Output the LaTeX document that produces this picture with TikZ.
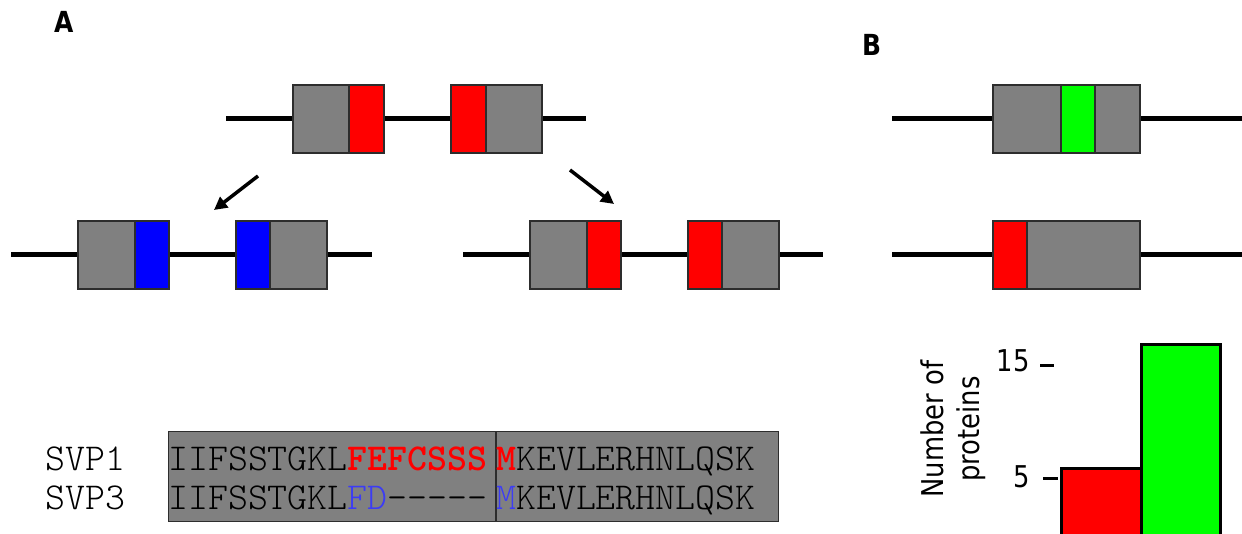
\documentclass[tikz,border=0pt]{standalone}
\usepackage{fontspec}
\usetikzlibrary{arrows.meta}
\newfontfamily\labfont[FakeStretch=0.86]{DejaVu Sans}
\newfontfamily\seqfont[BoldFont=lmmonolt10-bold.otf]{lmmonolt10-regular.otf}
\definecolor{exgray}{RGB}{128,128,128}
\definecolor{edgegray}{RGB}{45,45,45}
\definecolor{exred}{RGB}{255,0,0}
\definecolor{exblue}{RGB}{0,0,255}
\definecolor{exgreen}{RGB}{0,255,0}
\definecolor{aablue}{RGB}{60,60,245}
\tikzset{
  strand/.style={line width=5pt, black},
  exon/.style={draw=edgegray, line width=1.3pt, inner sep=0pt, minimum height=68pt, anchor=center},
  arr/.style={line width=3.5pt, -{Triangle[length=13pt,width=13pt]}},
  seq/.style={inner sep=0pt, anchor=base west, font=\seqfont\fontsize{38}{40}\selectfont},
  panel/.style={inner sep=0pt, anchor=base west, font=\labfont\bfseries\fontsize{29}{32}\selectfont},
  axis/.style={inner sep=0pt, font=\labfont\fontsize{30}{36}\selectfont},
  bar/.style={draw=black, line width=3pt, inner sep=0pt, anchor=north west, minimum height=90pt},
  tick/.style={line width=3pt, black},
}
\begin{document}
\begin{tikzpicture}[x=1pt, y=-1pt]
\path[use as bounding box, fill=white] (0,0) rectangle (1242,534);
\clip (0,0) rectangle (1242,534);

% panel labels
\node[panel] (labA) at (54,33) {A};
\node[panel] (labB) at (862,56) {B};

% ---- panel A: ancestral locus ----
\coordinate (t0) at (226,119); \coordinate (t1) at (586,119);
\draw[strand] (t0) -- (t1);
\node[exon, fill=exgray, minimum width=56pt] (tg1) at (321,119) {};
\node[exon, fill=exred,  minimum width=35pt] (tr1) at (366.5,119) {};
\node[exon, fill=exred,  minimum width=35pt] (tr2) at (468.5,119) {};
\node[exon, fill=exgray, minimum width=56pt] (tg2) at (514,119) {};

% derived loci
\coordinate (aL0) at (258,176); \coordinate (aL1) at (214,210);
\coordinate (aR0) at (570,170); \coordinate (aR1) at (614,204);
\draw[arr] (aL0) -- (aL1);
\draw[arr] (aR0) -- (aR1);

\coordinate (l0) at (11,255); \coordinate (l1) at (372,255);
\draw[strand] (l0) -- (l1);
\node[exon, fill=exgray, minimum width=57pt] (lg1) at (106.5,255) {};
\node[exon, fill=exblue, minimum width=34pt] (lb1) at (152,255) {};
\node[exon, fill=exblue, minimum width=34pt] (lb2) at (253,255) {};
\node[exon, fill=exgray, minimum width=57pt] (lg2) at (298.5,255) {};

\coordinate (r0) at (463,255); \coordinate (r1) at (823,255);
\draw[strand] (r0) -- (r1);
\node[exon, fill=exgray, minimum width=57pt] (rg1) at (558.5,255) {};
\node[exon, fill=exred,  minimum width=34pt] (rr1) at (604,255) {};
\node[exon, fill=exred,  minimum width=34pt] (rr2) at (705,255) {};
\node[exon, fill=exgray, minimum width=57pt] (rg2) at (750.5,255) {};

% sequence alignment
\node[draw=edgegray, line width=1.3pt, fill=exgray, inner sep=0pt, anchor=north west,
      minimum width=610pt, minimum height=90pt] (aln) at (168,431) {};
\coordinate (dv0) at (496,431); \coordinate (dv1) at (496,521);
\draw[edgegray, line width=1.3pt] (dv0) -- (dv1);

\node[seq] (n1) at (45,470) {SVP1};
\node[seq] (n3) at (45,509) {SVP3};
\node[seq] (s1a) at (168,470) {IIFSSTGKL\textcolor{exred}{\bfseries FEFCSSS}};
\node[seq] (s1b) at (496,470) {\textcolor{exred}{\bfseries M}KEVLERHNLQSK};
\node[seq] (s3a) at (168,509) {IIFSSTGKL\textcolor{aablue}{FD}-----};
\node[seq] (s3b) at (496,509) {\textcolor{aablue}{M}KEVLERHNLQSK};

% ---- panel B: gene models ----
\coordinate (b0) at (892,119); \coordinate (b1) at (1246,119);
\draw[strand] (b0) -- (b1);
\node[exon, fill=exgray,  minimum width=68pt] (bg1) at (1027,119) {};
\node[exon, fill=exgreen, minimum width=34pt] (bgr) at (1078,119) {};
\node[exon, fill=exgray,  minimum width=45pt] (bg2) at (1117.5,119) {};

\coordinate (c0) at (892,255); \coordinate (c1) at (1246,255);
\draw[strand] (c0) -- (c1);
\node[exon, fill=exred,  minimum width=34pt] (cr) at (1010,255) {};
\node[exon, fill=exgray, minimum width=113pt] (cg) at (1083.5,255) {};

% bar chart
\node[axis, rotate=90, align=center] (ylab) at (953,429) {Number of\\proteins};
\node[axis, anchor=east] (t15) at (1030,361) {15};
\node[axis, anchor=east] (t5) at (1030,477) {5};
\coordinate (k15a) at (1040,366); \coordinate (k15b) at (1054,366);
\coordinate (k5a) at (1043,478); \coordinate (k5b) at (1058,478);
\draw[tick] (k15a) -- (k15b);
\draw[tick] (k5a) -- (k5b);
\node[bar, fill=exred,   minimum width=80pt, minimum height=90pt]  (barR) at (1060,467) {};
\node[bar, fill=exgreen, minimum width=79pt, minimum height=210pt] (barG) at (1140,343) {};
\end{tikzpicture}
\end{document}
